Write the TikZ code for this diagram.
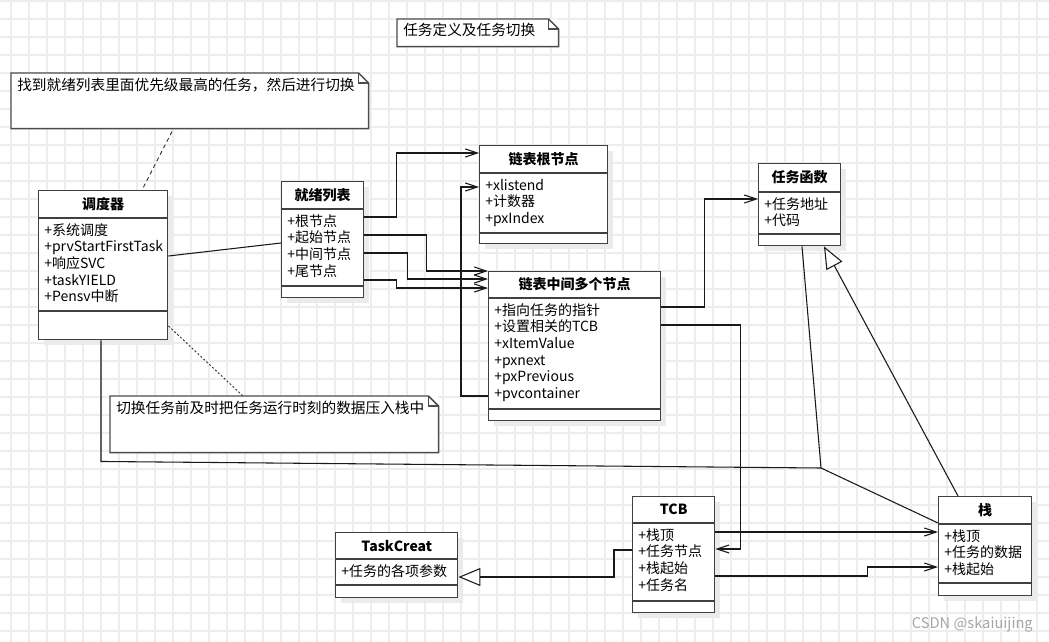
\documentclass[tikz,border=0pt]{standalone}
\usepackage{fontspec}
\setmainfont{Noto Sans CJK SC}
\usetikzlibrary{arrows.meta,calc}

% class box: name, x, y, width, head, body, foot, title, attributes
\newcommand\umlclass[9]{%
  \fill[boxshadow] (#2+6,#3+6) rectangle ++(#4,#5+#6+#7);
  \node[classbox, minimum width=#4*0.75pt, minimum height=(#5+#6+#7)*0.75pt] (#1) at (#2,#3) {};
  \node[classtitle] (#1-title) at ($(#1.north)+(0,#5/2)$) {#8};
  \draw[classline] ($(#1.north west)+(0,#5)$) -- ++(#4,0);
  \draw[classline] ($(#1.north west)+(0,#5+#6)$) -- ++(#4,0);
  \foreach \a [count=\i] in {#9}
    \node[attrtext] (#1-\i) at ($(#1.north west)+(6,#5+17+16.7*\i-16.7)$) {\a};
}

% note with folded corner: name, x1, y1, x2, y2, text
\newcommand\umlnote[6]{%
  \node[notebox, minimum width=(#4-#2)*0.75pt, minimum height=(#5-#3)*0.75pt] (#1) at (#2,#3) {};
  \draw[noteline] (#1.south west) |- ($(#1.north east)+(-10,0)$) -- ($(#1.north east)+(0,10)$) -- (#1.south east) -- cycle;
  \draw[noteline] ($(#1.north east)+(-10,0)$) |- ($(#1.north east)+(0,10)$);
  \node[notetext] (#1-text) at ($(#1.north west)+(6,17)$) {#6};
}

\begin{document}
\begin{tikzpicture}[x=0.75pt, y=-0.75pt,
  gridline/.style={black!7, line width=1.1pt},
  boxshadow/.style={black!8},
  classbox/.style={draw=black!75, line width=1.1pt, fill=white, inner sep=0pt, anchor=north west},
  classline/.style={black!75, line width=1.1pt},
  classtitle/.style={font=\fontsize{10.5}{12.5}\selectfont\bfseries, inner sep=0pt},
  attrtext/.style={font=\fontsize{10.5}{12.5}\selectfont, inner sep=0pt, anchor=base west},
  notebox/.style={fill=white, inner sep=0pt, anchor=north west},
  noteline/.style={draw=black!70, line width=1.1pt},
  notetext/.style={font=\fontsize{11}{13}\selectfont, inner sep=0pt, anchor=base west},
  link/.style={black!90, line width=0.8pt},
  assoc/.style={link, -{Straight Barb[length=9pt,width=6pt]}},
  realize/.style={link, -{Triangle[open, length=16.5pt, width=13.5pt, fill=white]}},
  noteref/.style={black!80, line width=0.7pt, dash pattern=on 3pt off 2.5pt},
  watermark/.style={font=\fontsize{11}{12}\selectfont, text=black!35, inner sep=0pt, anchor=base east}]

\useasboundingbox (0,0) rectangle (1049,642);
\fill[white] (0,0) rectangle (1049,642);

% background grid
\foreach \gx in {11,29,...,1049} \draw[gridline] (\gx,0) -- (\gx,642);
\foreach \gy in {1,19,...,642} \draw[gridline] (0,\gy) -- (1049,\gy);

% notes
\umlnote{topic}{397}{19}{558}{46}{任务定义及任务切换}
\umlnote{findnote}{11}{73}{368}{128}{找到就绪列表里面优先级最高的任务，然后进行切换}
\umlnote{pushnote}{110}{396}{438}{452}{切换任务前及时把任务运行时刻的数据压入栈中}

% classes
\umlclass{sched}{38}{190}{129}{28}{93}{28}{调度器}{+系统调度,+prvStartFirstTask,+响应SVC,+taskYIELD,+Pensv中断}
\umlclass{ready}{281}{181}{82}{28}{77}{11}{就绪列表}{+根节点,+起始节点,+中间节点,+尾节点}
\umlclass{root}{479}{145}{128}{28}{60}{10}{链表根节点}{+xlistend,+计数器,+pxIndex}
\umlclass{mid}{488}{271}{172}{27}{111}{11}{链表中间多个节点}{+指向任务的指针,+设置相关的TCB,+xItemValue,+pxnext,+pxPrevious,+pvcontainer}
\umlclass{func}{758}{163}{82}{29}{42}{11}{任务函数}{+任务地址,+代码}
\umlclass{stack}{938}{496}{93}{28}{59}{12}{栈}{+栈顶,+任务的数据,+栈起始}
\umlclass{tcb}{632}{496}{82}{27}{78}{11}{TCB}{+栈顶,+任务节点,+栈起始,+任务名}
\umlclass{creat}{335}{532}{122}{27}{26}{12}{TaskCreat}{+任务的各项参数}

% scheduler links
\coordinate (joint) at ($(stack.north west)+(-117,-28)$);
\draw[noteref] ($(findnote.south west)+(161,3)$) -- ($(sched.north west)+(104,0)$);
\draw[noteref, dash pattern=on 1.5pt off 1.5pt] ($(sched.north east)+(0,136)$) -- ($(pushnote.north west)+(133,0)$);
\draw[link] ($(sched.north east)+(0,66)$) -- ($(ready.north west)+(0,62)$);
\draw[link] ($(sched.south west)+(63,0)$) -- ++(0,121) -- (joint) -- ($(stack.north west)+(0,27)$);
\draw[link] ($(func.south west)+(44,0)$) -- (joint);

% ready list links
\draw[assoc] ($(ready.north east)+(0,36)$) -- ++(32,0) |- ($(root.north west)+(0,8)$);
\draw[assoc] ($(ready.north east)+(0,54)$) -- ++(62,0) |- (mid.north west);
\draw[assoc] ($(ready.north east)+(0,72)$) -- ++(43,0) |- ($(mid.north west)+(0,8)$);
\draw[assoc] ($(ready.north east)+(0,99)$) -- ++(32,0) |- ($(mid.north west)+(0,17)$);

% middle node links
\draw[assoc] ($(mid.north west)+(0,125)$) -- ++(-27,0) |- ($(root.north west)+(0,42)$);
\draw[assoc] ($(mid.north east)+(0,36)$) -- ++(43,0) |- ($(func.north west)+(0,36)$);
\draw[assoc] ($(mid.north east)+(0,54)$) -- ++(79,0) |- ($(tcb.north east)+(0,53)$);

% TCB links
\draw[assoc] ($(tcb.north east)+(0,36)$) -- ($(stack.north west)+(0,36)$);
\draw[assoc] ($(tcb.north east)+(0,80)$) -- ++(152,0) |- ($(stack.north west)+(0,71)$);
\draw[realize] ($(tcb.north west)+(0,54)$) -- ++(-18,0) |- ($(creat.north east)+(0,45)$);
\draw[realize] ($(stack.north west)+(20,0)$) -- ($(func.south west)+(66,0)$);

% watermark
\node[watermark] (csdn) at (1033,628) {CSDN @skaiuijing};

\end{tikzpicture}
\end{document}
